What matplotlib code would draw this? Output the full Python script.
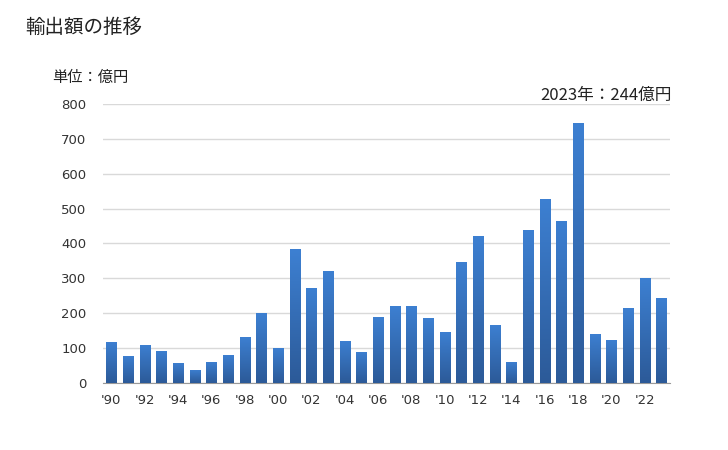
import numpy as np
import matplotlib.pyplot as plt
from matplotlib.colors import LinearSegmentedColormap

plt.rcParams['font.family'] = ['Noto Sans CJK JP', 'DejaVu Sans']

years = list(range(1990, 2024))
values = [118, 78, 110, 92, 58, 38, 61, 81, 132, 201,
          101, 384, 272, 322, 121, 90, 190, 222, 222, 187,
          147, 348, 422, 167, 61, 439, 528, 465, 746, 141,
          124, 216, 302, 244]
tick_labels = ["'%02d" % (y % 100) if y % 2 == 0 else '' for y in years]

fig = plt.figure(figsize=(7.28, 4.5), dpi=100)
ax = fig.add_axes([0.1415, 0.149, 0.7785, 0.62])

x = np.arange(len(years))
bars = ax.bar(x, values, width=0.6, color='none', zorder=3)

# vertical gradient inside each bar
cmap = LinearSegmentedColormap.from_list('g', ['#2c5a98', '#3d80d2'])
grad = np.linspace(0, 1, 256).reshape(-1, 1)
for b in bars:
    x0, w, h = b.get_x(), b.get_width(), b.get_height()
    im = ax.imshow(grad, cmap=cmap, aspect='auto', origin='lower',
                   extent=(x0, x0 + w, 0, h), zorder=3)
    im.set_clip_path(b)

ax.set_xlim(-0.5, len(years) - 0.5)
ax.set_ylim(0, 800)
ax.set_yticks(range(0, 801, 100))
ax.set_xticks(x)
ax.set_xticklabels(tick_labels)
for lab in ax.get_xticklabels() + ax.get_yticklabels():
    lab.set_fontfamily('DejaVu Sans')
ax.grid(axis='y', color='#d9d9d9', linewidth=1, zorder=0)
ax.tick_params(length=0, labelsize=9.5, colors='#333333')
ax.tick_params(axis='x', pad=8)
ax.tick_params(axis='y', pad=12)
for s in ['top', 'right', 'left']:
    ax.spines[s].set_visible(False)
ax.spines['bottom'].set_color('#999999')

fig.text(25 / 728, 1 - 27 / 450, '輸出額の推移', fontsize=14, va='center', ha='left', color='#222222')
fig.text(52 / 728, 1 - 77 / 450, '単位：億円', fontsize=11, va='center', ha='left', color='#222222')
fig.text(672 / 728, 1 - 95 / 450, '2023年：244億円', fontsize=12, va='center', ha='right', color='#222222')

fig.savefig('out.png', dpi=100)
